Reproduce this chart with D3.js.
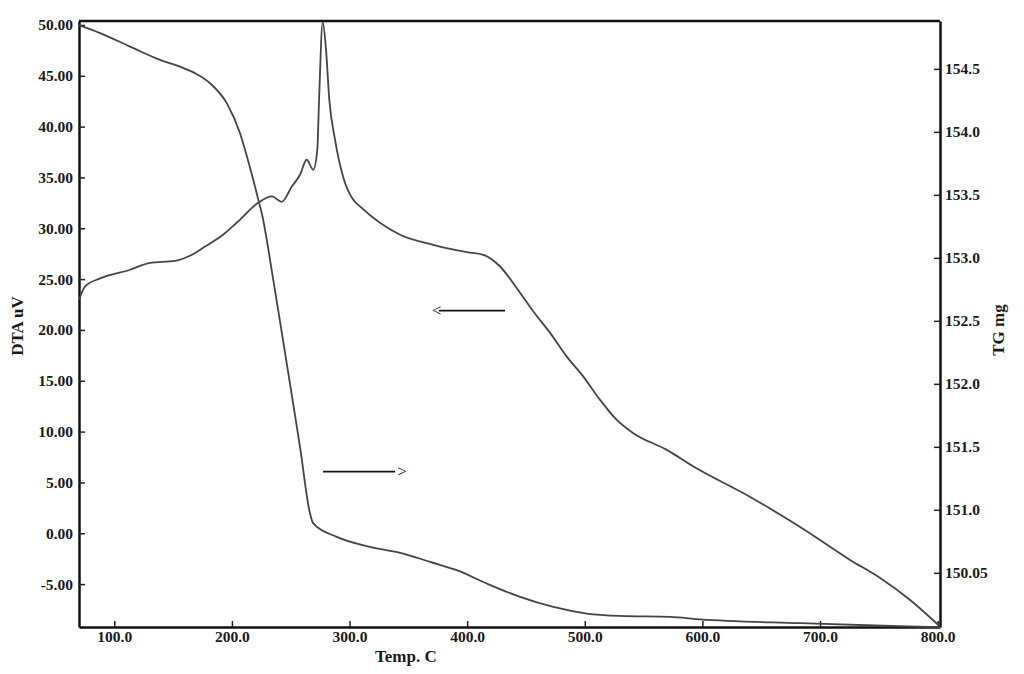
<!DOCTYPE html>
<html>
<head>
<meta charset="utf-8">
<script src="https://cdn.jsdelivr.net/npm/d3@7"></script>
<style>
  html, body { margin: 0; padding: 0; background: #fff; }
  svg { display: block; }
  text { font-family: "Liberation Serif", "Times New Roman", serif; font-weight: bold; fill: #1a1a1a; }
</style>
</head>
<body>
<svg id="chart" width="1024" height="674"></svg>
<script>
// ---- Data ----
const dtaTemp = [70, 75.1, 87.9, 113.4, 130.4, 151.6, 164.4, 177.1, 191.3, 205.2, 222.2, 233.9, 242.4, 250.9, 257.9, 263.6, 269.2, 272.6, 274.1, 277.2, 280.0, 282.8, 287.7, 294.7, 303.2, 308.9, 343.0, 371.0, 399.7, 413.8, 428.0, 442.2, 456.3, 470.5, 484.7, 498.8, 513.0, 527.2, 541.3, 569.7, 592.4, 640.6, 683.1, 725.6, 751.1, 776.6, 800.4];
const dtaValue = [22.97, 24.27, 25.07, 25.92, 26.6, 26.8, 27.3, 28.2, 29.26, 30.67, 32.5, 33.13, 32.6, 34.1, 35.27, 36.74, 35.76, 37.73, 42.65, 50.3, 47.57, 42.65, 38.7, 35.0, 32.8, 32.15, 29.36, 28.38, 27.66, 27.39, 26.24, 24.11, 21.81, 19.71, 17.38, 15.41, 13.12, 11.15, 9.84, 8.2, 6.56, 3.57, 0.62, -2.62, -4.4, -6.56, -9.0];

const tgTemp = [70, 87.9, 113.4, 138.9, 155.9, 168.6, 181.4, 195.6, 206.9, 211.2, 218.2, 222.5, 225.4, 235.2, 246.6, 257.9, 266.4, 269.0, 289.1, 317.4, 345.8, 368.5, 391.2, 416.7, 445.0, 473.3, 501.7, 530.0, 572.6, 598.1, 683.1, 768.1, 802];
const tgValue = [154.847, 154.784, 154.677, 154.571, 154.518, 154.466, 154.386, 154.228, 153.989, 153.857, 153.618, 153.46, 153.354, 152.824, 152.162, 151.5, 150.971, 150.894, 150.785, 150.706, 150.653, 150.587, 150.521, 150.415, 150.309, 150.229, 150.177, 150.158, 150.150, 150.131, 150.1, 150.076, 150.068];

const xTicks = [100, 200, 300, 400, 500, 600, 700, 800];
const leftTicks = [-5, 0, 5, 10, 15, 20, 25, 30, 35, 40, 45, 50];
const rightTicks = [150.5, 151.0, 151.5, 152.0, 152.5, 153.0, 153.5, 154.0, 154.5];
const rightTickLabels = ["150.05", "151.0", "151.5", "152.0", "152.5", "153.0", "153.5", "154.0", "154.5"];

const xTitle = "Temp. C";
const leftTitle = "DTA uV";
const rightTitle = "TG mg";

// ---- Layout ----
const W = 1024, H = 674;
const margin = { left: 79, right: 84, top: 21, bottom: 47 };
const svg = d3.select("#chart");

const x = d3.scaleLinear().domain([70, 802]).range([margin.left, W - margin.right]);
const yL = d3.scaleLinear().domain([-9.22, 50.39]).range([H - margin.bottom, margin.top]);
const yR = d3.scaleLinear().domain([150.07, 154.88]).range([H - margin.bottom, margin.top]);

const fontSize = "15.5px";
const fmtL = d => d.toFixed(2);

// Axes
const gx = svg.append("g")
  .attr("transform", `translate(0,${H - margin.bottom})`)
  .call(d3.axisBottom(x).tickValues(xTicks).tickFormat(d => d.toFixed(1)).tickSizeInner(-6).tickSizeOuter(0).tickPadding(4));
const gl = svg.append("g")
  .attr("transform", `translate(${margin.left},0)`)
  .call(d3.axisLeft(yL).tickValues(leftTicks).tickFormat(fmtL).tickSizeInner(-6).tickSizeOuter(0).tickPadding(6));
const gr = svg.append("g")
  .attr("transform", `translate(${W - margin.right},0)`)
  .call(d3.axisRight(yR).tickValues(rightTicks).tickFormat((d, i) => rightTickLabels[i]).tickSizeInner(-6).tickSizeOuter(0).tickPadding(5));

[gx, gl, gr].forEach(g => {
  g.selectAll(".domain").attr("stroke", "#111").attr("stroke-width", 2.5);
  g.selectAll(".tick line").attr("stroke", "#222").attr("stroke-width", 1.5);
  g.selectAll(".tick text").style("font-size", fontSize).attr("fill", "#1a1a1a")
   .style("font-family", '"Liberation Serif", serif').style("font-weight", "bold");
});

// Top frame line
svg.append("line")
  .attr("x1", margin.left).attr("x2", W - margin.right)
  .attr("y1", margin.top).attr("y2", margin.top)
  .attr("stroke", "#111").attr("stroke-width", 2.5);

// Curves
const dtaData = dtaTemp.map((t, i) => [t, dtaValue[i]]);
const tgData = tgTemp.map((t, i) => [t, tgValue[i]]);

const lineL = d3.line().x(d => x(d[0])).y(d => yL(d[1])).curve(d3.curveMonotoneX);
const lineR = d3.line().x(d => x(d[0])).y(d => yR(d[1])).curve(d3.curveMonotoneX);

svg.append("path").datum(dtaData).attr("d", lineL)
  .attr("fill", "none").attr("stroke", "#444").attr("stroke-width", 1.8);
svg.append("path").datum(tgData).attr("d", lineR)
  .attr("fill", "none").attr("stroke", "#444").attr("stroke-width", 1.8);

// Arrow annotations (DTA arrow points left, TG arrow points right)
const arrowY1 = 21.9, arrowY2 = 6.06;
svg.append("line").attr("x1", x(376)).attr("x2", x(432.2)).attr("y1", yL(arrowY1)).attr("y2", yL(arrowY1))
  .attr("stroke", "#111").attr("stroke-width", 1.8);
svg.append("text").attr("x", x(370)).attr("y", yL(arrowY1)).attr("dy", "0.33em")
  .style("font-size", "17px").style("font-weight", "normal").text("<");
svg.append("line").attr("x1", x(277.5)).attr("x2", x(338.7)).attr("y1", yL(arrowY2)).attr("y2", yL(arrowY2))
  .attr("stroke", "#111").attr("stroke-width", 1.8);
svg.append("text").attr("x", x(340.5)).attr("y", yL(arrowY2)).attr("dy", "0.33em")
  .style("font-size", "17px").style("font-weight", "normal").text(">");

// Axis titles
svg.append("text").attr("x", 375).attr("y", 662).style("font-size", "17px").text(xTitle);
svg.append("text").attr("transform", `translate(23,326) rotate(-90)`).attr("text-anchor", "middle")
  .style("font-size", "17px").text(leftTitle);
svg.append("text").attr("transform", `translate(1004,330) rotate(-90)`).attr("text-anchor", "middle")
  .style("font-size", "17px").text(rightTitle);
</script>
</body>
</html>
